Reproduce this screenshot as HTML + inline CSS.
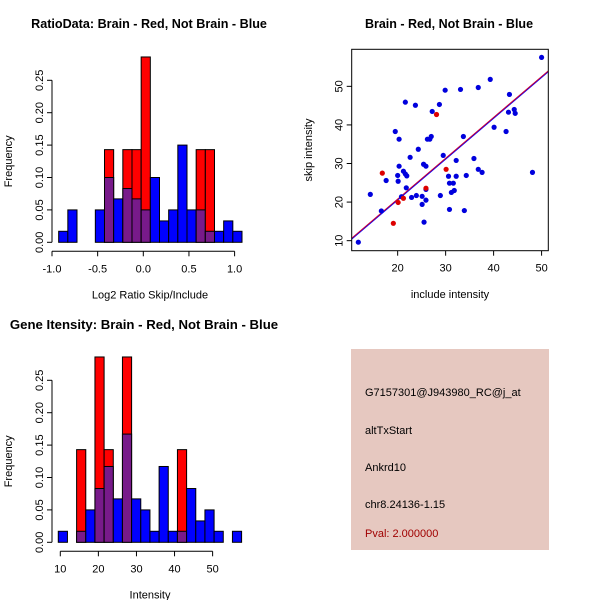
<!DOCTYPE html>
<html><head><meta charset="utf-8"><style>
body{margin:0;background:#fff;width:600px;height:600px;overflow:hidden;font-family:"Liberation Sans",sans-serif}
svg text{font-family:"Liberation Sans",sans-serif}
</style></head><body>
<svg id="c" width="600" height="600" xmlns="http://www.w3.org/2000/svg">
<text x="149" y="28" font-size="12.6" font-weight="bold" text-anchor="middle">RatioData: Brain - Red, Not Brain - Blue</text>
<text x="449" y="28" font-size="12.5" font-weight="bold" text-anchor="middle">Brain - Red, Not Brain - Blue</text>
<text x="144" y="329" font-size="13.2" font-weight="bold" text-anchor="middle">Gene Itensity: Brain - Red, Not Brain - Blue</text>
<g>
<rect x="351" y="349" width="198" height="201" fill="#e6c8c0"/>
<text x="365" y="396" font-size="11">G7157301@J943980_RC@j_at</text>
<text x="365" y="434" font-size="11">altTxStart</text>
<text x="365" y="471" font-size="11">Ankrd10</text>
<text x="365" y="508" font-size="11">chr8.24136-1.15</text>
<text x="365" y="537" font-size="11" fill="#a00000">Pval: 2.000000</text>
</g>
</svg>
<script>
const ratioBreakStart=-0.927, ratioBinWidth=0.1004;
const ratioBlue=[0.017,0.05,0,0,0.05,0.10,0.067,0.083,0.067,0.05,0.10,0.033,0.05,0.15,0.05,0.05,0.017,0.017,0.033,0.017];
const ratioRed=[0,0,0,0,0,0.143,0,0.143,0.143,0.286,0,0,0,0,0,0.143,0.143,0,0,0];
const ratioXTicks=[-1.0,-0.5,0.0,0.5,1.0];
const freqTicks=[0.00,0.05,0.10,0.15,0.20,0.25];
const intBreakStart=9.47, intBinWidth=2.407;
const intBlue=[0.017,0,0.017,0.05,0.083,0.117,0.067,0.167,0.067,0.05,0.017,0.117,0.017,0.017,0.083,0.033,0.05,0.017,0,0.017];
const intRed=[0,0,0.143,0,0.286,0.143,0,0.286,0,0,0,0,0,0.143,0,0,0,0,0,0];
const intXTicks=[10,20,30,40,50];
const blueX=[11.8,14.3,16.6,17.6,19.5,20.0,20.1,20.3,20.3,20.8,21.2,21.6,21.9,21.8,21.6,22.6,22.9,23.7,23.9,24.3,25.1,25.1,25.4,25.5,25.9,25.9,25.9,26.2,26.7,27.0,27.2,28.7,28.9,29.5,29.9,30.6,30.8,30.8,31.2,31.6,31.8,32.2,32.2,33.1,33.7,33.9,34.3,35.9,36.8,36.8,37.6,39.3,40.1,42.6,43.1,43.3,44.3,44.5,48.1,50.0];
const blueY=[9.6,22.0,17.7,25.6,38.3,26.9,25.4,36.3,29.3,21.4,28.0,27.3,26.8,23.7,45.9,31.6,21.2,45.1,21.7,33.7,21.5,19.4,29.8,14.8,29.3,23.3,20.5,36.3,36.3,37.0,43.5,45.3,21.7,32.1,49.0,26.7,24.9,18.1,22.5,24.9,23.0,26.7,30.8,49.2,37.0,17.8,26.9,31.3,49.7,28.5,27.7,51.8,39.4,38.3,43.3,47.9,44.0,43.0,27.7,57.5];
const redX=[16.8,19.1,20.1,21.2,25.9,28.1,30.1];
const redY=[27.5,14.5,19.9,21.0,23.6,42.7,28.5];
const fitLine=[10.42,10.43,51.4,53.8];
const scatXTicks=[20,30,40,50];
const scatYTicks=[10,20,30,40,50];

const svg=document.getElementById('c');
const NS='http://www.w3.org/2000/svg';
function mk(tag,a,parent){const e=document.createElementNS(NS,tag);for(const k in a)e.setAttribute(k,a[k]);(parent||svg).appendChild(e);return e;}

function hist(o){
  const sx=v=>o.x0+(v-o.v0)*o.kx, sy=v=>o.y0-v*o.ky;
  const g=mk('g',{});
  
  
  for(let i=0;i<o.blue.length;i++){
    const a=sx(o.bs+i*o.bw), b=sx(o.bs+(i+1)*o.bw);
    const bv=o.blue[i], rv=o.red[i];
    if(rv>0){
      const r=mk('rect',{x:a,y:sy(rv),width:b-a,height:sy(0)-sy(rv),fill:'#ff0000',stroke:'#000','stroke-width':1},g);
      
      
      if(bv>0){const p=mk('rect',{x:a,y:sy(Math.min(bv,rv)),width:b-a,height:sy(0)-sy(Math.min(bv,rv)),fill:'#781a8a',stroke:'#000','stroke-width':1},g);
      
      }
    } else if(bv>0){
      const r=mk('rect',{x:a,y:sy(bv),width:b-a,height:sy(0)-sy(bv),fill:'#0000ff',stroke:'#000','stroke-width':1},g);
      
      
    }
  }
  const yl=o.yl;
  mk('line',{x1:yl,x2:yl,y1:sy(0),y2:sy(0.25),stroke:'#000'},g);
  freqTicks.forEach(t=>{mk('line',{x1:yl-5,x2:yl,y1:sy(t),y2:sy(t),stroke:'#000'},g);
    const tx=mk('text',{x:yl-9,y:sy(t),'font-size':11,'text-anchor':'middle',transform:`rotate(-90 ${yl-9} ${sy(t)})`},g);tx.textContent=t.toFixed(2);
    
    });
  const ya=mk('text',{x:12,y:(sy(0)+sy(0.25))/2,'font-size':11,'text-anchor':'middle',transform:`rotate(-90 12 ${(sy(0)+sy(0.25))/2})`},g);ya.textContent='Frequency';
  
  
  const al=o.y0+9;
  mk('line',{x1:sx(o.xt[0]),x2:sx(o.xt[o.xt.length-1]),y1:al,y2:al,stroke:'#000'},g);
  o.xt.forEach(t=>{mk('line',{x1:sx(t),x2:sx(t),y1:al,y2:al+5,stroke:'#000'},g);
    const tx=mk('text',{x:sx(t),y:al+21,'font-size':11,'text-anchor':'middle'},g);tx.textContent=o.fmt(t);
    
    });
  const xa=mk('text',{x:150,y:o.y0+56,'font-size':11,'text-anchor':'middle'},g);xa.textContent=o.xlab;
  
  
}
hist({name:'ratio-histogram',x0:143.3,v0:0,kx:91.3,y0:242.3,ky:648,yl:52,bs:ratioBreakStart,bw:ratioBinWidth,blue:ratioBlue,red:ratioRed,xt:ratioXTicks,fmt:t=>t.toFixed(1),xlab:'Log2 Ratio Skip/Include'});
hist({name:'intensity-histogram',x0:60.3,v0:10,kx:3.808,y0:542.3,ky:648,yl:52,bs:intBreakStart,bw:intBinWidth,blue:intBlue,red:intRed,xt:intXTicks,fmt:t=>String(t),xlab:'Intensity'});

const X0=351.7,X1=548.3,Y0=49.3,Y1=250.7,dx0=10.42,dx1=51.4,dy0=7.4,dy1=59.6;
const px=v=>X0+(v-dx0)/(dx1-dx0)*(X1-X0), py=v=>Y1-(v-dy0)/(dy1-dy0)*(Y1-Y0);
const sg=mk('g',{});


const cp=mk('clipPath',{id:'cl'},sg);mk('rect',{x:X0,y:Y0,width:X1-X0,height:Y1-Y0},cp);
const l1=mk('line',{x1:px(fitLine[0]),y1:py(fitLine[1]),x2:px(fitLine[2]),y2:py(fitLine[3]),stroke:'#0000ff','stroke-width':1.2,'clip-path':'url(#cl)'},sg);


const l2=mk('line',{x1:px(fitLine[0]),y1:py(fitLine[1])-0.8,x2:px(fitLine[2]),y2:py(fitLine[3])-0.8,stroke:'#cc0033','stroke-width':1,'clip-path':'url(#cl)'},sg);


blueX.forEach((v,i)=>{const c=mk('circle',{cx:px(v),cy:py(blueY[i]),r:2.6,fill:'#0000dd'},sg);
  
  });
redX.forEach((v,i)=>{const c=mk('circle',{cx:px(v),cy:py(redY[i]),r:2.6,fill:'#dd0000'},sg);
  
  });
mk('rect',{x:X0,y:Y0,width:X1-X0,height:Y1-Y0,fill:'none',stroke:'#000'},sg);
scatXTicks.forEach(t=>{mk('line',{x1:px(t),x2:px(t),y1:Y1,y2:Y1+5,stroke:'#000'},sg);
  const tx=mk('text',{x:px(t),y:Y1+21,'font-size':11,'text-anchor':'middle'},sg);tx.textContent=t;
  
  });
scatYTicks.forEach(t=>{mk('line',{x1:X0-5,x2:X0,y1:py(t),y2:py(t),stroke:'#000'},sg);
  const tx=mk('text',{x:X0-9,y:py(t),'font-size':11,'text-anchor':'middle',transform:`rotate(-90 ${X0-9} ${py(t)})`},sg);tx.textContent=t;
  
  });
const sxl=mk('text',{x:450,y:298,'font-size':11,'text-anchor':'middle'},sg);sxl.textContent='include intensity';


const syl=mk('text',{x:312,y:150,'font-size':11,'text-anchor':'middle',transform:'rotate(-90 312 150)'},sg);syl.textContent='skip intensity';


</script>
</body></html>
